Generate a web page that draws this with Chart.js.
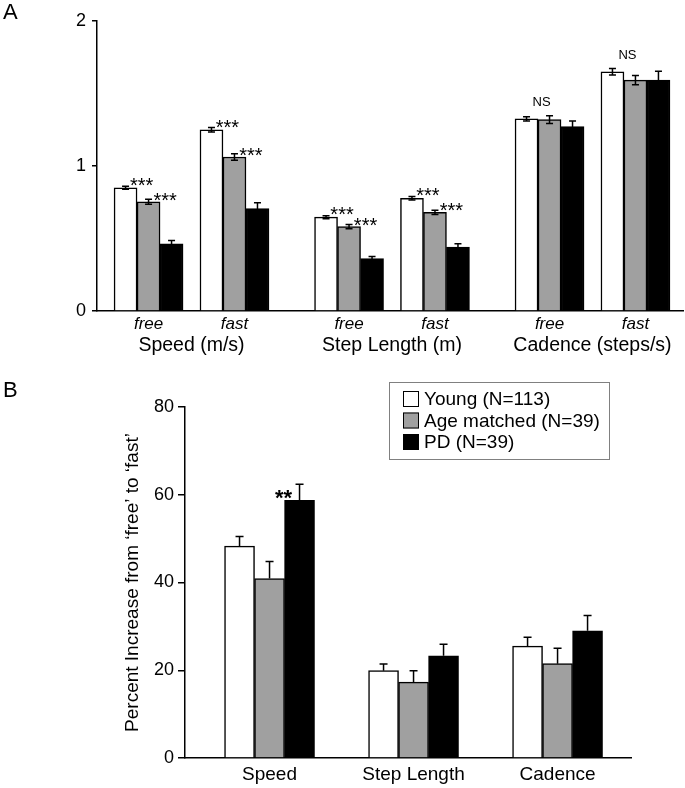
<!DOCTYPE html>
<html>
<head>
<meta charset="utf-8">
<script src="https://cdn.jsdelivr.net/npm/chart.js@4.4.1/dist/chart.umd.min.js"></script>
<style>
  html, body { margin: 0; padding: 0; background: #fff; }
  #wrapA { position: absolute; left: 0; top: 0; }
  #wrapB { position: absolute; left: 0; top: 360px; }
</style>
</head>
<body>
<div id="wrapA"><canvas id="chartA" width="685" height="360"></canvas></div>
<div id="wrapB"><canvas id="chartB" width="685" height="428"></canvas></div>
<script>
const FONT = '"Liberation Sans", Arial, sans-serif';

const groupNames = ['Young (N=113)', 'Age matched (N=39)', 'PD (N=39)'];
const groupColors = ['#ffffff', '#a0a0a0', '#000000'];

// panel A: speed free/fast, step length free/fast, cadence free/fast
const measuresA = ['Speed (m/s)', 'Step Length (m)', 'Cadence (steps/s)'];
const conditionsA = ['free', 'fast'];
const youngA = [0.85, 1.25, 0.647, 0.777, 1.325, 1.65];
const agedA = [0.753, 1.062, 0.582, 0.68, 1.32, 1.592];
const pdA = [0.463, 0.707, 0.362, 0.44, 1.272, 1.592];
const youngErrA = [0.01, 0.015, 0.01, 0.012, 0.014, 0.022];
const agedErrA = [0.017, 0.022, 0.015, 0.014, 0.027, 0.032];
const pdErrA = [0.023, 0.04, 0.014, 0.023, 0.039, 0.062];
const starsYoungA = ['***', '***', '***', '***', '', ''];
const starsAgedA = ['***', '***', '***', '***', '', ''];
const nsA = ['', '', '', '', 'NS', 'NS'];
const ticksA = [0, 1, 2];

// panel B: percent increase from free to fast
const measuresB = ['Speed', 'Step Length', 'Cadence'];
const youngB = [48.3, 19.9, 25.5];
const agedB = [40.9, 17.3, 21.5];
const pdB = [58.7, 23.3, 29.0];
const youngErrB = [2.2, 1.5, 2.0];
const agedErrB = [3.9, 2.6, 3.5];
const pdErrB = [3.7, 2.6, 3.5];
const starsPdB = ['**', '', ''];
const ticksB = [0, 20, 40, 60, 80];

// slot positions on the x axis: conditions 3 slots apart, measures 7
const posA = [];
measuresA.forEach((m, mi) => conditionsA.forEach((c, ci) => posA.push(mi * 7 + ci * 3)));
const posB = measuresB.map((m, i) => i);

function points(pos, vals) {
  return pos.map((x, i) => ({ x, y: vals[i] }));
}

function makeDatasets(pos, series, errs) {
  return series.map((vals, k) => ({
    label: groupNames[k],
    data: points(pos, vals),
    errors: errs[k],
    backgroundColor: groupColors[k],
    borderColor: '#000',
    borderWidth: 1.5,
    borderSkipped: 'bottom'
  }));
}

const errorBars = {
  id: 'errorBars',
  afterDatasetsDraw(chart, args, opts) {
    const { ctx } = chart;
    const y = chart.scales.y;
    chart.data.datasets.forEach((ds, di) => {
      const meta = chart.getDatasetMeta(di);
      meta.data.forEach((bar, i) => {
        const v = ds.data[i].y;
        const e = ds.errors[i];
        const top = y.getPixelForValue(v + e);
        const bot = opts.twoSided ? y.getPixelForValue(v - e) : bar.y;
        const h = opts.cap / 2;
        ctx.save();
        ctx.strokeStyle = '#000';
        ctx.lineWidth = opts.width;
        ctx.beginPath();
        ctx.moveTo(bar.x, bot);
        ctx.lineTo(bar.x, top);
        ctx.moveTo(bar.x - h, top);
        ctx.lineTo(bar.x + h, top);
        if (opts.twoSided) {
          ctx.moveTo(bar.x - h, bot);
          ctx.lineTo(bar.x + h, bot);
        }
        ctx.stroke();
        ctx.restore();
      });
    });
  }
};

const panelA = {
  id: 'panelA',
  afterDraw(chart) {
    const { ctx } = chart;
    const x = chart.scales.x;
    const white = chart.getDatasetMeta(0).data;
    const gray = chart.getDatasetMeta(1).data;
    ctx.save();
    ctx.fillStyle = '#000';
    ctx.textAlign = 'left';
    ctx.textBaseline = 'alphabetic';
    ctx.font = '22px ' + FONT;
    ctx.fillText('A', 3, 19);

    ctx.textAlign = 'center';
    ctx.font = '19.5px ' + FONT;
    measuresA.forEach((m, mi) => {
      const cx = (x.getPixelForValue(posA[mi * 2]) + x.getPixelForValue(posA[mi * 2 + 1])) / 2;
      ctx.fillText(m, cx, 351);
    });

    ctx.font = '20px ' + FONT;
    white.forEach((bar, i) => {
      if (starsYoungA[i]) ctx.fillText(starsYoungA[i], bar.x + bar.width / 2 + 4.5, bar.y + 4);
    });
    gray.forEach((bar, i) => {
      if (starsAgedA[i]) ctx.fillText(starsAgedA[i], bar.x + bar.width / 2 + 5, bar.y + 5);
    });
    ctx.font = '13px ' + FONT;
    white.forEach((bar, i) => {
      if (nsA[i]) ctx.fillText(nsA[i], bar.x + bar.width / 2 + 3.5, bar.y - 13);
    });
    ctx.restore();
  }
};

const panelB = {
  id: 'panelB',
  afterDraw(chart) {
    const { ctx } = chart;
    const black = chart.getDatasetMeta(2).data;
    ctx.save();
    ctx.fillStyle = '#000';
    ctx.textAlign = 'left';
    ctx.textBaseline = 'alphabetic';
    ctx.font = '22px ' + FONT;
    ctx.fillText('B', 3, 37);

    ctx.textAlign = 'center';
    ctx.font = 'bold 22px ' + FONT;
    black.forEach((bar, i) => {
      if (starsPdB[i]) ctx.fillText(starsPdB[i], bar.x - bar.width / 2 - 1, bar.y + 5);
    });

    // legend box
    ctx.strokeStyle = '#808080';
    ctx.lineWidth = 1;
    ctx.strokeRect(389.5, 22.5, 220, 77);
    ctx.font = '19px ' + FONT;
    ctx.textAlign = 'left';
    ctx.textBaseline = 'middle';
    chart.data.datasets.forEach((ds, k) => {
      const cy = 39 + k * 21.5;
      ctx.fillStyle = ds.backgroundColor;
      ctx.fillRect(403, cy - 8, 16, 16);
      ctx.strokeStyle = '#000';
      ctx.strokeRect(403.5, cy - 7.5, 15, 15);
      ctx.fillStyle = '#000';
      ctx.fillText(ds.label, 424, cy + 1);
    });
    ctx.restore();
  }
};

function fixTicks(values) {
  return (scale) => { scale.ticks = values.map((v) => ({ value: v })); };
}

new Chart(document.getElementById('chartA'), {
  type: 'bar',
  data: { datasets: makeDatasets(posA, [youngA, agedA, pdA], [youngErrA, agedErrA, pdErrA]) },
  options: {
    responsive: false,
    animation: false,
    barThickness: 23,
    layout: { padding: { top: 21, right: 2, left: 0, bottom: 0 } },
    plugins: {
      legend: { display: false },
      tooltip: { enabled: false },
      errorBars: { twoSided: true, cap: 7, width: 1.5 }
    },
    scales: {
      x: {
        type: 'linear',
        min: -1.8,
        max: 18.66,
        offset: false,
        afterBuildTicks: fixTicks(posA),
        afterFit: (s) => { s.height = 49; },
        grid: { display: false, drawTicks: false },
        border: { display: true, color: '#000', width: 1.5 },
        ticks: {
          autoSkip: false,
          maxRotation: 0,
          padding: 3,
          color: '#000',
          font: { family: FONT, size: 17, style: 'italic' },
          callback: (v, i) => conditionsA[i % 2]
        }
      },
      y: {
        min: 0,
        max: 2,
        afterBuildTicks: fixTicks(ticksA),
        afterFit: (s) => { s.width = 97; },
        grid: { drawOnChartArea: false, drawTicks: true, tickLength: 5, color: '#000', lineWidth: 1.5 },
        border: { display: true, color: '#000', width: 1.5 },
        ticks: { padding: 6, color: '#000', font: { family: FONT, size: 18 } }
      }
    }
  },
  plugins: [errorBars, panelA]
});

new Chart(document.getElementById('chartB'), {
  type: 'bar',
  data: { datasets: makeDatasets(posB, [youngB, agedB, pdB], [youngErrB, agedErrB, pdErrB]) },
  options: {
    responsive: false,
    animation: false,
    barThickness: 30,
    layout: { padding: { top: 47, right: 54, left: 121, bottom: 0 } },
    plugins: {
      legend: { display: false },
      tooltip: { enabled: false },
      errorBars: { twoSided: false, cap: 8, width: 1.5 }
    },
    scales: {
      x: {
        type: 'linear',
        min: -0.587,
        max: 2.51,
        offset: false,
        afterBuildTicks: fixTicks(posB),
        afterFit: (s) => { s.height = 30; },
        grid: { display: false, drawTicks: false },
        border: { display: true, color: '#000', width: 1.5 },
        ticks: {
          autoSkip: false,
          maxRotation: 0,
          padding: 5,
          color: '#000',
          font: { family: FONT, size: 19 },
          callback: (v, i) => measuresB[i]
        }
      },
      y: {
        min: 0,
        max: 80,
        afterBuildTicks: fixTicks(ticksB),
        afterFit: (s) => { s.width = 64; },
        grid: { drawOnChartArea: false, drawTicks: true, tickLength: 7, color: '#000', lineWidth: 1.5 },
        border: { display: true, color: '#000', width: 1.5 },
        title: {
          display: true,
          text: 'Percent Increase from \u2018free\u2019 to \u2018fast\u2019',
          color: '#000',
          padding: 0,
          font: { family: FONT, size: 19 }
        },
        ticks: { padding: 4, color: '#000', font: { family: FONT, size: 18 } }
      }
    }
  },
  plugins: [errorBars, panelB]
});
</script>
</body>
</html>
